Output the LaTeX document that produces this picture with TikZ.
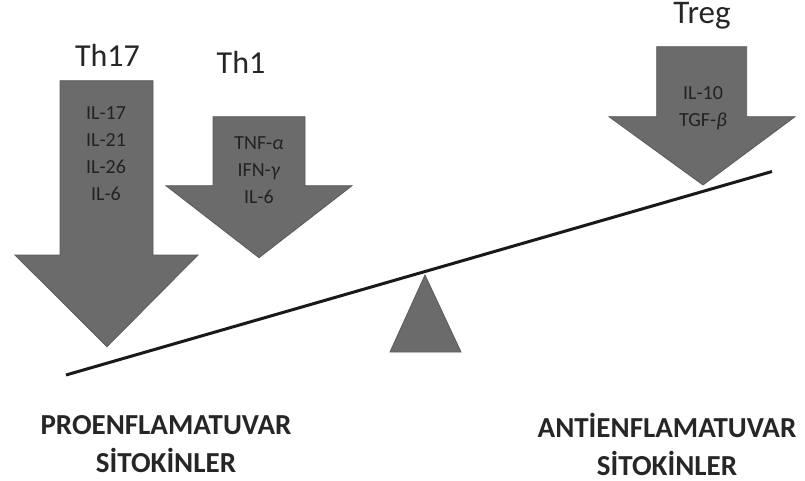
\documentclass[tikz,border=0pt]{standalone}
\usepackage{fontspec}
\setmainfont{Carlito}
\begin{document}
\begin{tikzpicture}[x=1pt,y=-1pt,
  arrowshape/.style={fill=cytogray, draw=cytoedge, line width=0.8pt, line join=miter},
  inner/.style={align=center, text=cytotext, inner sep=0pt, font=\fontsize{20}{27}\selectfont},
  cell/.style={text=black!85, inner sep=0pt, font=\fontsize{32}{36}\selectfont},
  bottom/.style={align=center, text=black!85, inner sep=0pt, font=\fontsize{29}{38}\selectfont\bfseries}]
\definecolor{cytogray}{HTML}{6B6B6B}
\definecolor{cytoedge}{HTML}{5A5A5A}
\definecolor{cytotext}{HTML}{222222}
\useasboundingbox (0,0) rectangle (805,481);
\fill[white] (0,0) rectangle (805,481);
% Th17 arrow
\path[arrowshape] (60,80.7) -- (153,80.7) -- (153,255) -- (198,255) -- (107,346.7) -- (15,255) -- (60,255) -- cycle;
% Th1 arrow
\path[arrowshape] (213,116.7) -- (305,116.7) -- (305,185.7) -- (352,185.7) -- (259,257.7) -- (166,185.7) -- (213,185.7) -- cycle;
% Treg arrow
\path[arrowshape] (656.7,46.7) -- (746.7,46.7) -- (746.7,116.7) -- (795,116.7) -- (703,185) -- (609,116.7) -- (656.7,116.7) -- cycle;
% fulcrum
\path[arrowshape] (425,275) -- (461,352) -- (390,352) -- cycle;
% beam
\coordinate (beamL) at (66,375);
\coordinate (beamR) at (772,171.5);
\draw[line width=3pt, black!90] (beamL) -- (beamR);
% labels
\node[cell] (th17) at (107.5,55) {Th17};
\node[cell] (th1) at (241,62) {Th1};
\node[cell, font=\fontsize{33}{36}\selectfont] (treg) at (702,16) {Treg};
\node[inner] (th17txt) at (106,154) {IL-17\\IL-21\\IL-26\\IL-6};
\node[inner] (th1txt) at (259,170) {TNF-\textit{α}\\IFN-\textit{γ}\\IL-6};
\node[inner] (tregtxt) at (703,108) {IL-10\\TGF-\textit{β}};
\node[bottom] (pro) at (166,444) {PROENFLAMATUVAR\\SİTOKİNLER};
\node[bottom] (anti) at (667,444) {ANTİENFLAMATUVAR\\SİTOKİNLER};
\end{tikzpicture}
\end{document}
